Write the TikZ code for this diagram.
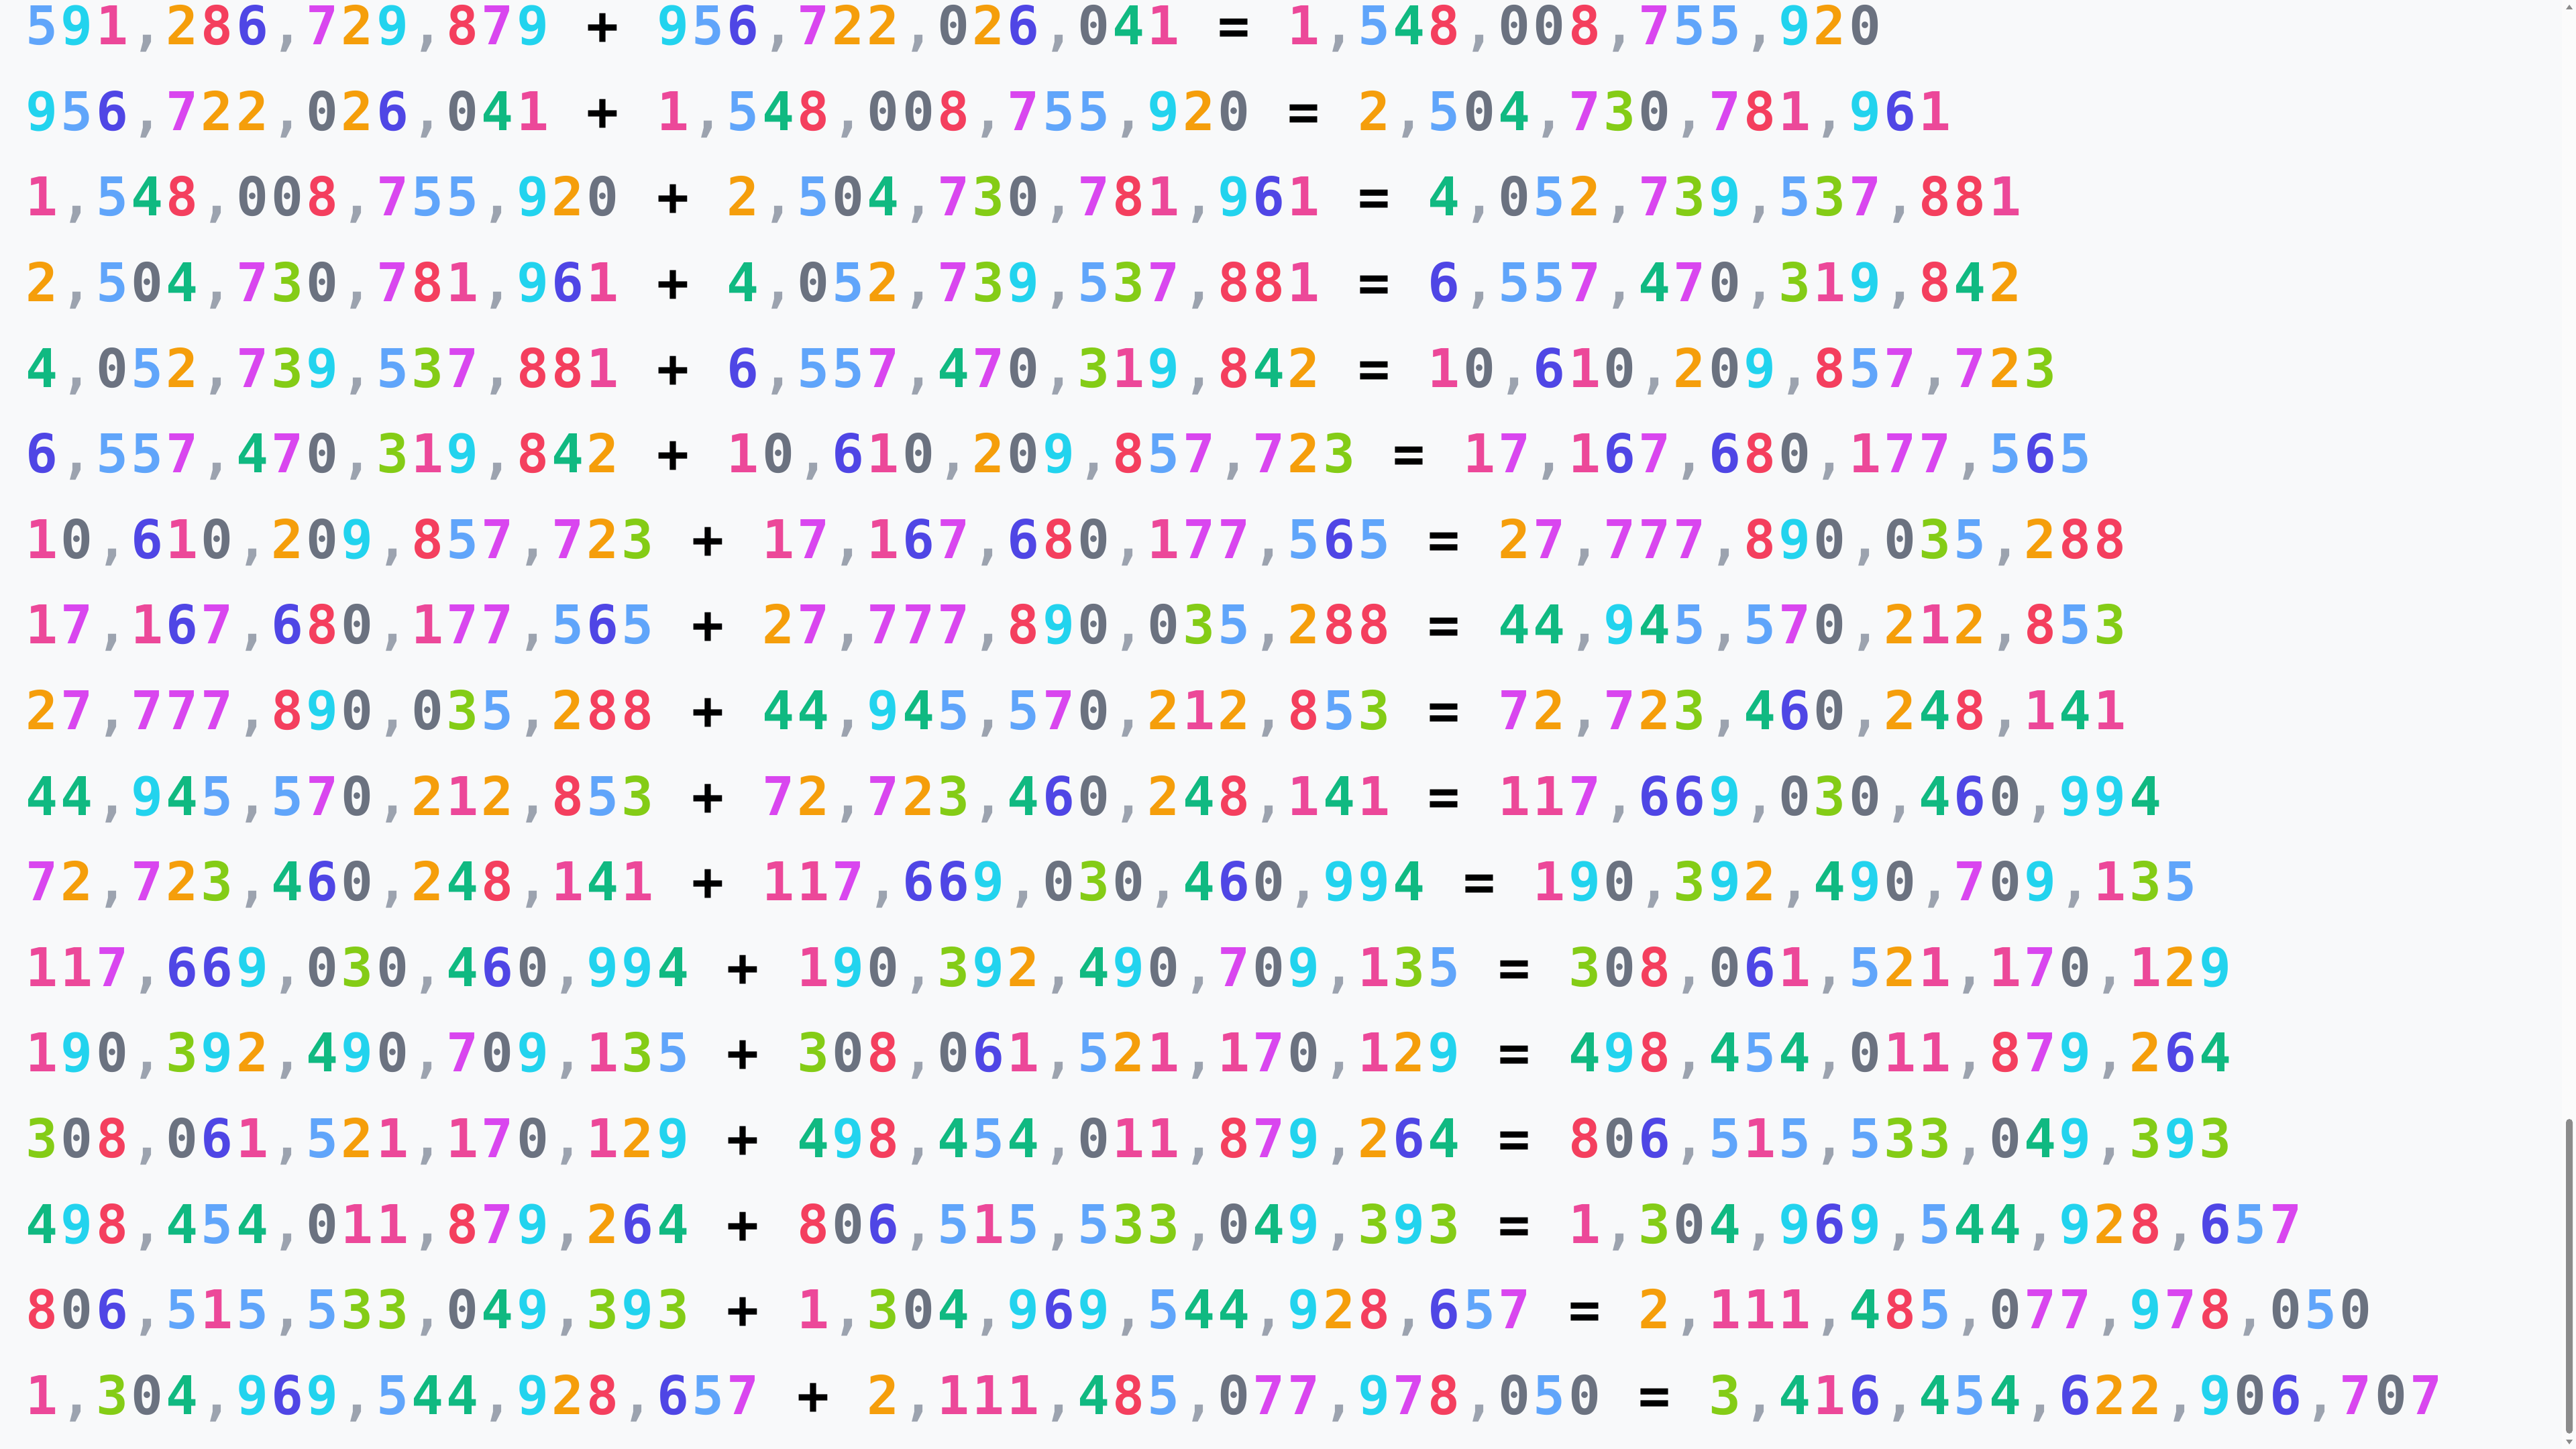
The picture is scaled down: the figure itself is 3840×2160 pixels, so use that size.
\documentclass[tikz,border=0pt]{standalone}
\usepackage{fontspec}
\newfontfamily\numfont{DejaVu Sans Mono}
\definecolor{bgc}{HTML}{F8F9FA}
\definecolor{stripc}{HTML}{FBFBFB}
\definecolor{thumbc}{HTML}{8B8B8B}
\definecolor{d0}{HTML}{6B7280}
\definecolor{d1}{HTML}{EC4899}
\definecolor{d2}{HTML}{F59E0B}
\definecolor{d3}{HTML}{84CC16}
\definecolor{d4}{HTML}{10B981}
\definecolor{d5}{HTML}{60A5FA}
\definecolor{d6}{HTML}{4F46E5}
\definecolor{d7}{HTML}{D946EF}
\definecolor{d8}{HTML}{F43F5E}
\definecolor{d9}{HTML}{22D3EE}
\definecolor{dcomma}{HTML}{9CA3AF}
\newlength\cw
\setlength\cw{13.065pt}
\makeatletter
\def\numcells#1{\numcells@#1\@nil}
\def\numcells@#1{\ifx\@nil#1\else\onecell{#1}\expandafter\numcells@\fi}
\def\onecell#1{\makebox[\cw][c]{\if,#1\color{dcomma},\else\color{d#1}#1\fi}}
\makeatother
\newcommand\opcell[1]{\makebox[\cw]{}\makebox[\cw][c]{\color{black}#1}\makebox[\cw]{}}
\newcommand\eqrow[3]{\numcells{#1}\opcell{+}\numcells{#2}\opcell{=}\numcells{#3}}
\begin{document}
\begin{tikzpicture}[x=0.25pt,y=-0.25pt,
  eqline/.style={anchor=base west,inner sep=0pt,outer sep=0pt,
    font=\numfont\bfseries\fontsize{19.9pt}{19.9pt}\selectfont}]
\useasboundingbox (0,0) rectangle (3840,2160);
\fill[bgc] (0,0) rectangle (3840,2160);
\fill[stripc] (3819,0) rectangle (3840,2160);
% scrollbar
\fill[thumbc,rounded corners=1.25pt] (3825,1668) rectangle (3835,2137);
\fill[thumbc] (3825,14) -- (3835,14) -- (3830,7) -- cycle;
\fill[thumbc] (3825,2146) -- (3835,2146) -- (3830,2153) -- cycle;
% rows
\node[eqline] (r1)  at (36.4,66.7)   {\eqrow{591,286,729,879}{956,722,026,041}{1,548,008,755,920}};
\node[eqline] (r2)  at (36.4,194.3)  {\eqrow{956,722,026,041}{1,548,008,755,920}{2,504,730,781,961}};
\node[eqline] (r3)  at (36.4,321.9)  {\eqrow{1,548,008,755,920}{2,504,730,781,961}{4,052,739,537,881}};
\node[eqline] (r4)  at (36.4,449.5)  {\eqrow{2,504,730,781,961}{4,052,739,537,881}{6,557,470,319,842}};
\node[eqline] (r5)  at (36.4,577.1)  {\eqrow{4,052,739,537,881}{6,557,470,319,842}{10,610,209,857,723}};
\node[eqline] (r6)  at (36.4,704.7)  {\eqrow{6,557,470,319,842}{10,610,209,857,723}{17,167,680,177,565}};
\node[eqline] (r7)  at (36.4,832.3)  {\eqrow{10,610,209,857,723}{17,167,680,177,565}{27,777,890,035,288}};
\node[eqline] (r8)  at (36.4,959.9)  {\eqrow{17,167,680,177,565}{27,777,890,035,288}{44,945,570,212,853}};
\node[eqline] (r9)  at (36.4,1087.5) {\eqrow{27,777,890,035,288}{44,945,570,212,853}{72,723,460,248,141}};
\node[eqline] (r10) at (36.4,1215.1) {\eqrow{44,945,570,212,853}{72,723,460,248,141}{117,669,030,460,994}};
\node[eqline] (r11) at (36.4,1342.7) {\eqrow{72,723,460,248,141}{117,669,030,460,994}{190,392,490,709,135}};
\node[eqline] (r12) at (36.4,1470.3) {\eqrow{117,669,030,460,994}{190,392,490,709,135}{308,061,521,170,129}};
\node[eqline] (r13) at (36.4,1597.9) {\eqrow{190,392,490,709,135}{308,061,521,170,129}{498,454,011,879,264}};
\node[eqline] (r14) at (36.4,1725.5) {\eqrow{308,061,521,170,129}{498,454,011,879,264}{806,515,533,049,393}};
\node[eqline] (r15) at (36.4,1853.1) {\eqrow{498,454,011,879,264}{806,515,533,049,393}{1,304,969,544,928,657}};
\node[eqline] (r16) at (36.4,1980.7) {\eqrow{806,515,533,049,393}{1,304,969,544,928,657}{2,111,485,077,978,050}};
\node[eqline] (r17) at (36.4,2108.3) {\eqrow{1,304,969,544,928,657}{2,111,485,077,978,050}{3,416,454,622,906,707}};
\end{tikzpicture}
\end{document}
